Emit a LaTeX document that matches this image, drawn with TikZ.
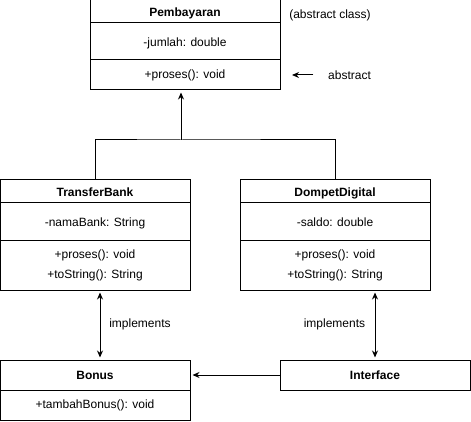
\documentclass[tikz,border=0pt]{standalone}
\usepackage{fontspec}
\setmainfont{Liberation Sans}
\usetikzlibrary{arrows.meta}
\newcommand{\umlsize}{\fontsize{12}{14.4}\selectfont}

\begin{document}
\begin{tikzpicture}[x=1pt, y=-1pt, line width=1pt, font=\umlsize,
  box/.style={draw, minimum width=190pt, inner sep=0pt, align=center, font=\umlsize},
  hdr/.style={box, text height=9.5pt, text depth=0pt, font=\umlsize\bfseries},
  attr/.style={box, minimum height=37pt, text height=10.5pt, text depth=1.2pt},
  meth/.style={box, minimum height=50pt, font=\fontsize{12}{20}\selectfont},
  arr/.style={-{Stealth[length=7pt, width=6pt]}},
  dbl/.style={{Stealth[length=7pt, width=6pt]}-{Stealth[length=7pt, width=6pt]}, shorten <=2pt, shorten >=2pt}]
  \useasboundingbox (0,0) rectangle (471,422);

  % abstract parent
  \node[hdr, minimum height=23pt] (pb-h) at (185,11.5) {Pembayaran};
  \node[attr] (pb-a) at (185,41.5) {-jumlah: double};
  \node[box, minimum height=30pt] (pb-m) at (185,75) {+proses(): void};
  \node (note) at (330,15) {(abstract class)};
  \node (abs) at (349.5,75) {abstract};
  \coordinate (abstip) at (292,75);
  \draw[arr, shorten <=11pt] (abs.west) -- (abstip);

  % subclasses
  \foreach \n/\x/\t/\a in {tb/95/TransferBank/-namaBank: String, dd/335/DompetDigital/-saldo: double} {
    \node[hdr, minimum height=23pt] (\n-h) at (\x,191.5) {\t};
    \node[attr] (\n-a) at (\x,221.5) {\a};
    \node[meth] (\n-m) at (\x,265) {+proses(): void\\+toString(): String};
  }

  % bottom row
  \node[hdr, minimum height=30pt] (bn-h) at (95,375) {Bonus};
  \node[box, minimum height=30pt] (bn-m) at (95,405) {+tambahBonus(): void};
  \node[hdr, minimum height=30pt] (if) at (375,375) {Interface};

  % inheritance
  \coordinate (join) at (181,140);
  \draw (tb-h.north) |- (join) -| (dd-h.north);
  \draw[arr, shorten >=2pt] (join) -- (join |- pb-m.south);

  % implements
  \draw[dbl] ([xshift=5pt]tb-m.south) -- ([xshift=5pt]bn-h.north);
  \node (impl1) at (140,324) {implements};
  \draw[dbl] (dd-m.south -| if.north) -- (if.north);
  \node (impl2) at (334.5,324) {implements};
  \draw[arr, shorten >=2pt] (if.west) -- (bn-h.east);
\end{tikzpicture}
\end{document}
